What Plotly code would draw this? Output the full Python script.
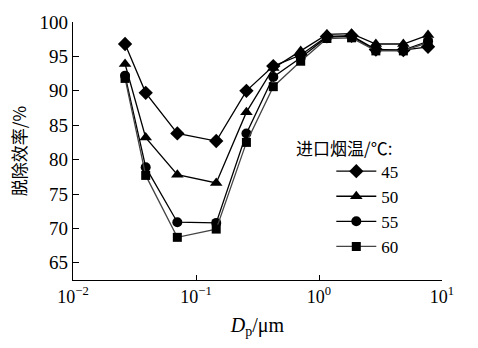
import plotly.graph_objects as go

dp = [0.0265, 0.039, 0.0705, 0.146, 0.257, 0.425, 0.71, 1.16, 1.84, 2.9, 4.85, 7.7]
eff_45 = [96.8, 89.7, 83.8, 82.7, 90.0, 93.6, 95.2, 97.9, 98.0, 96.0, 95.9, 96.4]
eff_50 = [93.9, 83.2, 77.8, 76.6, 86.9, 93.3, 95.8, 98.2, 98.3, 96.8, 96.8, 98.1]
eff_55 = [92.2, 78.9, 70.9, 70.8, 83.8, 92.0, 94.8, 97.8, 97.9, 95.9, 95.9, 97.2]
eff_60 = [91.8, 77.7, 68.7, 69.9, 82.5, 90.6, 94.3, 97.6, 97.7, 95.8, 95.8, 97.0]
names = ["45", "50", "55", "60"]
series = [eff_45, eff_50, eff_55, eff_60]
symbols = ["diamond", "triangle-up", "circle", "square"]
sizes = [11, 11, 10, 9]
line_colors = ["black", "black", "black", "#444444"]
y_ticks = [65, 70, 75, 80, 85, 90, 95, 100]
x_ticks = [0.01, 0.1, 1, 10]
x_ticktext = ["10<sup>−2</sup>", "10<sup>−1</sup>", "10<sup>0</sup>", "10<sup>1</sup>"]

serif = "Liberation Serif"
cjk = "Noto Sans CJK SC"

fig = go.Figure()
for n, s, sym, sz, lc in zip(names, series, symbols, sizes, line_colors):
    fig.add_trace(go.Scatter(
        x=dp, y=s, name=n, mode="lines+markers",
        line=dict(color=lc, width=1.3),
        marker=dict(symbol=sym, size=sz, color="black"),
    ))

fig.update_layout(
    width=478, height=348,
    margin=dict(l=73, r=36, t=17, b=68),
    paper_bgcolor="white", plot_bgcolor="white",
    font=dict(family=serif, size=17, color="black"),
    showlegend=True,
    legend=dict(
        x=0.70, y=0.49, xanchor="left", yanchor="top",
        bgcolor="rgba(0,0,0,0)", font=dict(family=serif, size=17),
        tracegroupgap=0, itemwidth=40,
    ),
    annotations=[dict(
        text="进口烟温/℃:", xref="paper", yref="paper",
        x=0.60, y=0.515, xanchor="left", yanchor="middle",
        showarrow=False, font=dict(family=cjk, size=17, color="black"),
    )],
)
fig.update_xaxes(
    type="log", range=[-2, 1], showgrid=False, zeroline=False,
    showline=True, linecolor="black", linewidth=1.2,
    ticks="inside", ticklen=5, tickcolor="black",
    tickvals=x_ticks, ticktext=x_ticktext,
    tickfont=dict(family=serif, size=18),
    title=dict(text="<i>D</i><sub>p</sub>/μm", font=dict(family=serif, size=20), standoff=12),
)
fig.update_yaxes(
    range=[62.5, 100], showgrid=False, zeroline=False,
    showline=True, linecolor="black", linewidth=1.2,
    ticks="inside", ticklen=6, tickcolor="black",
    tickvals=y_ticks,
    tickfont=dict(family=serif, size=19),
    title=dict(text="脱除效率/%", font=dict(family=cjk, size=17), standoff=8),
)
fig.write_html("out.html")
